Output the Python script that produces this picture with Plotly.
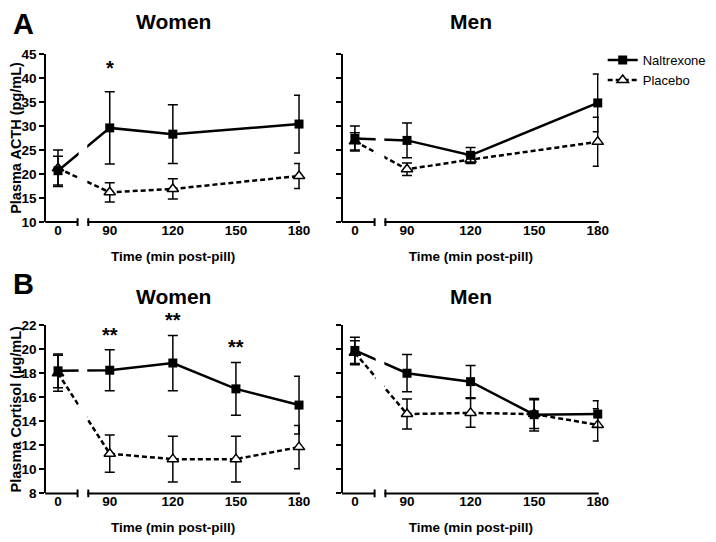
import plotly.graph_objects as go

# time points (min post-pill)
TIMES_A = [0, 90, 120, 180]
TIMES_B = [0, 90, 120, 150, 180]
TICK_TIMES = [0, 90, 120, 150, 180]

# Plasma ACTH (pg/mL), mean and SEM
acth_women_nal = [20.7, 29.6, 28.3, 30.4]
acth_women_nal_sem = [3.0, 7.5, 6.1, 6.0]
acth_women_pla = [21.2, 16.2, 16.9, 19.6]
acth_women_pla_sem = [3.8, 2.0, 2.1, 2.6]
acth_men_nal = [27.4, 27.0, 23.9, 34.8]
acth_men_nal_sem = [2.6, 3.6, 1.6, 6.0]
acth_men_pla = [26.8, 21.0, 23.0, 26.7]
acth_men_pla_sem = [1.8, 1.3, 0.8, 5.1]

# Plasma cortisol (ug/mL), mean and SEM
cort_women_nal = [18.2, 18.25, 18.85, 16.7, 15.35]
cort_women_nal_sem = [1.4, 1.7, 2.3, 2.2, 2.4]
cort_women_pla = [18.0, 11.3, 10.85, 10.85, 11.85]
cort_women_pla_sem = [1.5, 1.55, 1.9, 1.9, 1.8]
cort_men_nal = [19.9, 18.0, 17.3, 14.55, 14.6]
cort_men_nal_sem = [1.1, 1.55, 1.35, 1.35, 1.1]
cort_men_pla = [19.7, 14.6, 14.7, 14.6, 13.7]
cort_men_pla_sem = [1.0, 1.25, 1.2, 1.2, 1.35]

# significance marks (value-axis height of each mark)
sig_a_times = [90]
sig_a_labels = ["*"]
sig_a_y = [42.0]
sig_b_times = [90, 120, 150]
sig_b_labels = ["**", "**", "**"]
sig_b_y = [21.15, 22.4, 20.15]

FONT = "Arial, 'Liberation Sans', sans-serif"
W, H = 716, 542
OFF = 8  # page body margin: the figure sits 8px in from the window corner
A_RANGE = [10, 45]
B_RANGE = [8, 22]

# broken axis: baseline sample sits just left of the break
BASE_POS = 65.4
XRANGE = [59.8, 180.5]
BRK0, BRK1 = 74.7, 79.8


def xpos(times):
    return [BASE_POS if t == 0 else t for t in times]


def px(v):
    return (v - OFF) / W


def py(v):
    return 1 - (v - OFF) / H


# panel domains (window pixels -> paper)
XDOM_W = [px(40), px(300)]
XDOM_M = [px(344), px(606)]
YDOM_A = [py(221), py(48)]
YDOM_B = [py(500), py(327)]

fig = go.Figure()

panels = [
    ("x", "y", TIMES_A, acth_women_nal, acth_women_nal_sem, acth_women_pla, acth_women_pla_sem, True),
    ("x2", "y2", TIMES_A, acth_men_nal, acth_men_nal_sem, acth_men_pla, acth_men_pla_sem, False),
    ("x3", "y3", TIMES_B, cort_women_nal, cort_women_nal_sem, cort_women_pla, cort_women_pla_sem, False),
    ("x4", "y4", TIMES_B, cort_men_nal, cort_men_nal_sem, cort_men_pla, cort_men_pla_sem, False),
]

for xa, ya, times, nal, nal_sem, pla, pla_sem, show in panels:
    fig.add_trace(go.Scatter(
        x=xpos(times), y=pla, xaxis=xa, yaxis=ya, name="Placebo",
        mode="lines+markers", showlegend=show, legendrank=2, cliponaxis=False,
        line=dict(color="black", width=2.5, dash="5px,3px"),
        marker=dict(symbol="triangle-up", size=10, color="white",
                    line=dict(color="black", width=1.5)),
        error_y=dict(type="data", array=pla_sem, color="black", thickness=1.5, width=5),
    ))
    fig.add_trace(go.Scatter(
        x=xpos(times), y=nal, xaxis=xa, yaxis=ya, name="Naltrexone",
        mode="lines+markers", showlegend=show, legendrank=1, cliponaxis=False,
        line=dict(color="black", width=2.5),
        marker=dict(symbol="square", size=9, color="black"),
        error_y=dict(type="data", array=nal_sem, color="black", thickness=1.5, width=5),
    ))

xaxis_common = dict(
    range=XRANGE, showline=False, showgrid=False, zeroline=False, ticks="",
    tickvals=xpos(TICK_TIMES), ticktext=[str(t) for t in TICK_TIMES],
    tickfont=dict(family=FONT, size=13.5, color="black", weight="bold"),
    ticklabelstandoff=-2,
    title=dict(text="Time (min post-pill)", standoff=14,
               font=dict(family=FONT, size=13.5, color="black", weight="bold")),
)
yaxis_common = dict(
    showline=True, linewidth=2, linecolor="black", showgrid=False, zeroline=False,
    ticks="outside", ticklen=5, tickwidth=2, tickcolor="black",
    tickfont=dict(family=FONT, size=13.5, color="black", weight="bold"),
)
ytitle_font = dict(family=FONT, size=14.5, color="black", weight="bold")

fig.update_layout(
    xaxis=dict(domain=XDOM_W, anchor="y", **xaxis_common),
    xaxis2=dict(domain=XDOM_M, anchor="y2", **xaxis_common),
    xaxis3=dict(domain=XDOM_W, anchor="y3", **xaxis_common),
    xaxis4=dict(domain=XDOM_M, anchor="y4", **xaxis_common),
    yaxis=dict(domain=YDOM_A, anchor="x", range=A_RANGE, dtick=5,
               title=dict(text="Plasma ACTH (pg/mL)", standoff=3, font=ytitle_font),
               **yaxis_common),
    yaxis2=dict(domain=YDOM_A, anchor="x2", range=A_RANGE, dtick=5,
                showticklabels=False, **yaxis_common),
    yaxis3=dict(domain=YDOM_B, anchor="x3", range=B_RANGE, dtick=2,
                title=dict(text="Plasma Cortisol (µg/mL)", standoff=3, font=ytitle_font),
                **yaxis_common),
    yaxis4=dict(domain=YDOM_B, anchor="x4", range=B_RANGE, dtick=2,
                showticklabels=False, **yaxis_common),
)


def to_paper(p, dom):
    return dom[0] + (p - XRANGE[0]) / (XRANGE[1] - XRANGE[0]) * (dom[1] - dom[0])


shapes = []
for xdom, ydom in [(XDOM_W, YDOM_A), (XDOM_M, YDOM_A), (XDOM_W, YDOM_B), (XDOM_M, YDOM_B)]:
    yb = ydom[0]
    cap = 4 / H
    # white band hides the data lines across the break
    shapes.append(dict(type="rect", xref="paper", yref="paper", layer="above",
                       x0=to_paper(BRK0 + 0.5, xdom), x1=to_paper(BRK1 - 0.5, xdom),
                       y0=yb + 2 / H, y1=ydom[1], fillcolor="white", line=dict(width=0)))
    for a, b in [(XRANGE[0], BRK0), (BRK1, XRANGE[1])]:
        shapes.append(dict(type="line", xref="paper", yref="paper", layer="above",
                           x0=to_paper(a, xdom) - 1 / W, x1=to_paper(b, xdom), y0=yb, y1=yb,
                           line=dict(color="black", width=2)))
    for p in (BRK0, BRK1):
        shapes.append(dict(type="line", xref="paper", yref="paper", layer="above",
                           x0=to_paper(p, xdom), x1=to_paper(p, xdom), y0=yb - cap, y1=yb + cap,
                           line=dict(color="black", width=2)))

annotations = []
for text, x, y in [("Women", 170, 15), ("Men", 475, 15), ("Women", 170, 297), ("Men", 475, 297)]:
    annotations.append(dict(text=text, x=px(x), y=py(y), xref="paper", yref="paper",
                            showarrow=False, xanchor="center", yanchor="middle",
                            font=dict(family=FONT, size=21, color="black", weight="bold")))
for text, y in [("A", 17), ("B", 285)]:
    annotations.append(dict(text=text, x=px(17), y=py(y), xref="paper", yref="paper",
                            showarrow=False, xanchor="center", yanchor="middle",
                            font=dict(family=FONT, size=29, color="black", weight="bold")))
# y given on the value axis, placed via the axis domain so marks above the range still show
for t, lab, y in zip(sig_a_times, sig_a_labels, sig_a_y):
    annotations.append(dict(text=lab, x=t, y=(y - A_RANGE[0]) / (A_RANGE[1] - A_RANGE[0]),
                            xref="x", yref="y domain", showarrow=False, yanchor="middle",
                            font=dict(family=FONT, size=20, color="black", weight="bold")))
for t, lab, y in zip(sig_b_times, sig_b_labels, sig_b_y):
    annotations.append(dict(text=lab, x=t, y=(y - B_RANGE[0]) / (B_RANGE[1] - B_RANGE[0]),
                            xref="x3", yref="y3 domain", showarrow=False, yanchor="middle",
                            font=dict(family=FONT, size=20, color="black", weight="bold")))

fig.update_layout(
    width=W, height=H, margin=dict(l=0, r=0, t=0, b=0),
    paper_bgcolor="white", plot_bgcolor="white",
    shapes=shapes, annotations=annotations,
    legend=dict(x=px(610), y=py(39), xanchor="left", yanchor="top",
                font=dict(family=FONT, size=13, color="black"),
                bgcolor="rgba(0,0,0,0)", tracegroupgap=0),
)

fig.write_html("out.html")
